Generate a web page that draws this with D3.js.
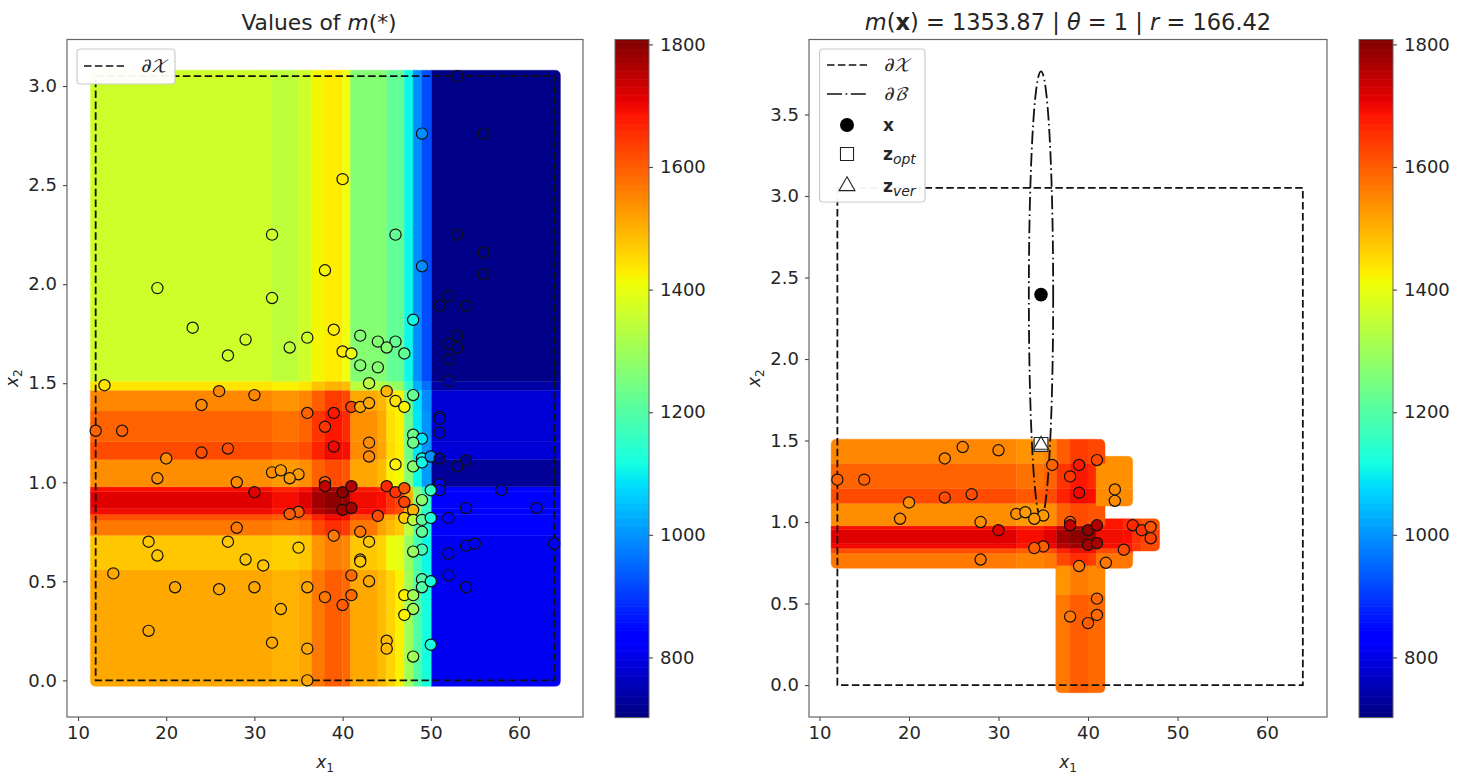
<!DOCTYPE html>
<html lang="en">
<head>
<meta charset="utf-8">
<title>Values of m</title>
<script src="https://cdn.jsdelivr.net/npm/d3@7"></script>
<style>
  html, body { margin: 0; padding: 0; background: #fff; }
  svg { display: block; }
  text { font-family: "DejaVu Sans", sans-serif; fill: #262626; }
  .tick text { font-size: 18px; }
  .tick line { stroke: #444; stroke-width: 1.1; }
  .math { font-family: "DejaVu Math TeX Gyre", "DejaVu Sans", serif; }
</style>
</head>
<body>
<svg id="chart" width="1464" height="774"></svg>
<script>
// band edges of the surface m(*)
var colEdges = [11.4, 32, 35, 36.5, 38, 40, 40.9, 44, 45, 46, 47, 48, 49, 50.1, 64.7];
var rowEdges = [-0.03, 0.557, 0.733, 0.809, 0.839, 0.868, 0.952, 0.977, 1.115, 1.205, 1.36, 1.465, 1.51, 3.08];

// m value per band, rows bottom to top, columns left to right
var surface = [
  [1510, 1500, 1510, 1568, 1600, 1585, 1510, 1490, 1460, 1425, 1305, 1200, 1122, 812],
  [1476, 1465, 1476, 1535, 1565, 1550, 1476, 1460, 1405, 1395, 1295, 1180, 1110, 812],
  [1568, 1555, 1568, 1625, 1655, 1640, 1570, 1515, 1490, 1470, 1340, 1215, 1130, 825],
  [1616, 1600, 1616, 1670, 1700, 1690, 1620, 1518, 1510, 1480, 1400, 1240, 1140, 830],
  [1700, 1680, 1700, 1755, 1775, 1770, 1690, 1680, 1640, 1620, 1500, 1270, 1150, 835],
  [1715, 1695, 1715, 1775, 1795, 1785, 1700, 1690, 1650, 1630, 1505, 1275, 1155, 835],
  [1690, 1670, 1690, 1745, 1770, 1760, 1680, 1660, 1630, 1610, 1490, 1260, 1140, 830],
  [1543, 1528, 1543, 1595, 1620, 1610, 1515, 1490, 1425, 1415, 1270, 1110, 1010, 725],
  [1620, 1605, 1620, 1670, 1700, 1690, 1545, 1515, 1450, 1430, 1235, 1090, 1000, 785],
  [1592, 1575, 1592, 1645, 1680, 1660, 1540, 1510, 1445, 1425, 1235, 1090, 1000, 785],
  [1550, 1535, 1550, 1600, 1640, 1625, 1510, 1495, 1440, 1420, 1225, 1085, 990, 785],
  [1440, 1425, 1440, 1480, 1500, 1490, 1340, 1330, 1300, 1290, 1150, 1030, 960, 740],
  [1366, 1343, 1366, 1419, 1432, 1410, 1266, 1266, 1222, 1222, 1110, 995, 925, 710]
];

// training points
var pointX1 = [40, 32, 38, 19, 32, 39, 23, 36, 29, 34, 27, 40, 41,
  53, 49, 56, 46, 53, 56, 56, 49, 52, 51, 54, 48, 42, 44, 46, 45, 47, 53, 52, 53, 52, 42, 44, 43, 52,
  13, 26, 30, 24, 36, 39, 41, 42, 38, 12, 15, 39, 27, 24, 20, 19, 32, 33, 35, 34, 28, 38, 38, 30, 40, 41, 40, 41, 35, 34, 28, 39,
  27, 18, 19, 35, 29, 31, 14, 41, 21, 26, 30, 36, 38, 41, 40, 33, 18, 32, 36, 36,
  45, 46, 47, 48, 43, 51, 51, 51, 48, 49, 48, 43, 43, 46, 48, 49, 49, 50, 51, 54, 53, 51, 51, 50, 58, 45, 46, 47, 47, 49, 48, 54, 62,
  47, 48, 49, 50, 52, 44, 42, 49, 43, 49, 48, 42, 42, 54, 55, 64, 52, 43, 52, 54, 49, 49, 50, 47, 48, 48, 47, 45, 45, 50, 48];
var pointX2 = [2.53, 2.25, 2.07, 1.98, 1.93, 1.77, 1.78, 1.73, 1.72, 1.68, 1.64, 1.66, 1.65,
  3.05, 2.76, 2.76, 2.25, 2.25, 2.16, 2.05, 2.09, 1.94, 1.89, 1.89, 1.82, 1.74, 1.71, 1.71, 1.68, 1.65, 1.74, 1.70, 1.68, 1.62, 1.59, 1.58, 1.50, 1.51,
  1.49, 1.46, 1.44, 1.39, 1.35, 1.35, 1.38, 1.38, 1.28, 1.26, 1.26, 1.18, 1.17, 1.15, 1.12, 1.02, 1.05, 1.06, 1.04, 1.02, 1.00, 1.00, 0.98, 0.95, 0.95, 0.98, 0.86, 0.87, 0.85, 0.84, 0.77, 0.73,
  0.70, 0.70, 0.63, 0.67, 0.61, 0.58, 0.54, 0.53, 0.47, 0.46, 0.47, 0.47, 0.42, 0.43, 0.38, 0.36, 0.25, 0.19, 0.16, 0,
  1.46, 1.41, 1.38, 1.44, 1.40, 1.33, 1.32, 1.25, 1.24, 1.22, 1.20, 1.20, 1.13, 1.09, 1.08, 1.12, 1.10, 1.13, 1.12, 1.11, 1.08, 0.99, 0.96, 0.96, 0.96, 0.98, 0.95, 0.97, 0.90, 0.91, 0.86, 0.87, 0.87,
  0.82, 0.81, 0.81, 0.82, 0.82, 0.83, 0.75, 0.75, 0.70, 0.66, 0.65, 0.61, 0.60, 0.68, 0.69, 0.69, 0.64, 0.50, 0.53, 0.47, 0.51, 0.47, 0.50, 0.43, 0.43, 0.36, 0.33, 0.20, 0.16, 0.18, 0.12];

var boundsX1 = [12, 64];
var boundsX2 = [0, 3.05];
var queryPoint = [34.75, 2.395];
var zOpt = [34.75, 1.476];
var zVer = [34.75, 1.476];
var ballRadii = [1.36, 1.37];
var mAtX = 1353.87;
var rAtX = 166.42;
var colorDomain = [702, 1808];
var colorTicks = [800, 1000, 1200, 1400, 1600, 1800];

var svg = d3.select('#chart');

// soft edge for the surface, the markers in the reference bleed into each other
svg.append('defs').append('filter').attr('id', 'soft')
  .attr('x', '-5%').attr('y', '-5%').attr('width', '110%').attr('height', '110%')
  .append('feGaussianBlur').attr('stdDeviation', 0.5);

// matplotlib jet
var jetR = d3.scaleLinear().domain([0, 0.35, 0.66, 0.89, 1]).range([0, 0, 1, 1, 0.5]);
var jetG = d3.scaleLinear().domain([0, 0.125, 0.375, 0.64, 0.91, 1]).range([0, 0, 1, 1, 0, 0]);
var jetB = d3.scaleLinear().domain([0, 0.11, 0.34, 0.65, 1]).range([0.5, 1, 1, 0, 0]);
var toUnit = d3.scaleLinear().domain(colorDomain).range([0, 1]).clamp(true);
function jet(v) {
  var t = toUnit(v);
  return d3.rgb(jetR(t) * 255, jetG(t) * 255, jetB(t) * 255).formatHex();
}

function bandIndex(edges, v) {
  return Math.max(0, Math.min(edges.length - 2, d3.bisectRight(edges, v) - 1));
}
// markers cover half of their neighbours, so the visible band edge sits off the grid point
function valueAt(x1, x2) {
  return surface[bandIndex(rowEdges, x2 - 0.015)][bandIndex(colEdges, x1 - 0.5)];
}

// rect path with some corners rounded: [tl, tr, br, bl]
function cellPath(x0, y0, x1, y1, round, r) {
  var c = round.map(function(b) { return b ? r : 0; });
  return 'M' + (x0 + c[0]) + ',' + y0 +
    'H' + (x1 - c[1]) + 'Q' + x1 + ',' + y0 + ' ' + x1 + ',' + (y0 + c[1]) +
    'V' + (y1 - c[2]) + 'Q' + x1 + ',' + y1 + ' ' + (x1 - c[2]) + ',' + y1 +
    'H' + (x0 + c[3]) + 'Q' + x0 + ',' + y1 + ' ' + x0 + ',' + (y1 - c[3]) +
    'V' + (y0 + c[0]) + 'Q' + x0 + ',' + y0 + ' ' + (x0 + c[0]) + ',' + y0 + 'Z';
}

function drawField(parent, x, y, minValue, growX, growY, dropY) {
  var g = parent.append('g').attr('filter', 'url(#soft)');
  var keep = function(i, j) {
    return i >= 0 && j >= 0 && i < surface.length && j < colEdges.length - 1 && surface[i][j] >= minValue;
  };
  surface.forEach(function(row, i) {
    row.forEach(function(v, j) {
      if (!keep(i, j)) return;
      var up = keep(i + 1, j), down = keep(i - 1, j), left = keep(i, j - 1), right = keep(i, j + 1);
      var x0 = x(colEdges[j] - (left || !growX ? 0 : 0.1));
      var x1 = x(colEdges[j + 1] + (right ? 0 : growX));
      var y0 = y(rowEdges[i + 1] + (up ? 0 : growY));
      var y1 = y(rowEdges[i] - (down ? 0 : dropY));
      g.append('path')
        .attr('d', cellPath(x0, y0, x1, y1, [!left && !up, !right && !up, !right && !down, !left && !down], 5.5))
        .attr('fill', jet(v))
        .attr('stroke', jet(v))
        .attr('stroke-width', 0.4);
    });
  });
}

function drawPoints(g, x, y, minValue) {
  pointX1.forEach(function(v, i) {
    var m = valueAt(v, pointX2[i]);
    if (m < minValue) return;
    g.append('circle')
      .attr('cx', x(v))
      .attr('cy', y(pointX2[i]))
      .attr('r', 5.6)
      .attr('fill', jet(m))
      .attr('stroke', '#111')
      .attr('stroke-width', 1.2);
  });
}

function drawPanel(p) {
  var g = svg.append('g').attr('transform', 'translate(' + p.left + ',' + p.top + ')');
  var x = d3.scaleLinear().domain(p.xDomain).range([0, p.w]);
  var y = d3.scaleLinear().domain(p.yDomain).range([p.h, 0]);

  drawField(g, x, y, p.minValue, p.growX, p.growY, p.dropY);

  // boundary of the domain
  g.append('rect')
    .attr('x', x(boundsX1[0])).attr('y', y(boundsX2[1]))
    .attr('width', x(boundsX1[1]) - x(boundsX1[0]))
    .attr('height', y(boundsX2[0]) - y(boundsX2[1]))
    .attr('fill', 'none').attr('stroke', '#111')
    .attr('stroke-width', 1.8).attr('stroke-dasharray', dashBox);

  g.append('g').attr('transform', 'translate(0,' + p.h + ')')
    .call(d3.axisBottom(x).tickValues([10, 20, 30, 40, 50, 60]).tickSize(4).tickPadding(5).tickFormat(d3.format('d')))
    .call(function(a) { a.select('.domain').remove(); });
  g.append('g')
    .call(d3.axisLeft(y).tickValues(p.yTicks).tickSize(4).tickPadding(6).tickFormat(d3.format('.1f')))
    .call(function(a) { a.select('.domain').remove(); });

  g.append('text').attr('x', p.w / 2).attr('y', p.h + 51).attr('text-anchor', 'middle')
    .style('font-size', '17px')
    .html('<tspan font-style="italic">x</tspan><tspan dy="4" font-size="12">1</tspan>');
  g.append('text')
    .attr('transform', 'translate(' + (-49) + ',' + (p.h / 2) + ') rotate(-90)')
    .attr('text-anchor', 'middle').style('font-size', '17px')
    .html('<tspan font-style="italic">x</tspan><tspan dy="4" font-size="12">2</tspan>');

  return {g: g, x: x, y: y};
}

function drawFrame(p) {
  svg.append('rect')
    .attr('x', p.left).attr('y', p.top).attr('width', p.w).attr('height', p.h)
    .attr('fill', 'none').attr('stroke', '#666').attr('stroke-width', 1.2);
}

function drawColorbar(left) {
  var top = 39.5, h = 678, w = 34;
  var cy = d3.scaleLinear().domain(colorDomain).range([h, 0]);
  var g = svg.append('g').attr('transform', 'translate(' + left + ',' + top + ')');
  var levels = d3.range(256);
  var step = (colorDomain[1] - colorDomain[0]) / 256;
  g.selectAll('rect.level').data(levels).enter().append('rect')
    .attr('class', 'level')
    .attr('x', 0).attr('width', w)
    .attr('y', function(d) { return cy(colorDomain[0] + (d + 1) * step); })
    .attr('height', h / 256 + 0.6)
    .attr('fill', function(d) { return jet(colorDomain[0] + (d + 0.5) * step); });
  g.append('rect').attr('width', w).attr('height', h)
    .attr('fill', 'none').attr('stroke', '#666').attr('stroke-width', 1);
  g.append('g').attr('transform', 'translate(' + w + ',0)')
    .call(d3.axisRight(cy).tickValues(colorTicks).tickSize(4).tickPadding(7).tickFormat(d3.format('d')))
    .call(function(a) { a.select('.domain').remove(); });
}

function legendBox(x, y, w, h) {
  svg.append('rect').attr('x', x).attr('y', y).attr('width', w).attr('height', h)
    .attr('rx', 3.5).attr('fill', '#fff').attr('fill-opacity', 0.95)
    .attr('stroke', '#ccc').attr('stroke-width', 1.2);
}
function legendLine(x0, y, dash) {
  svg.append('line').attr('x1', x0).attr('x2', x0 + 40).attr('y1', y).attr('y2', y)
    .attr('stroke', '#111').attr('stroke-width', 1.7).attr('stroke-dasharray', dash);
}
function legendText(x, y, html) {
  svg.append('text').attr('x', x).attr('y', y + 6).style('font-size', '17px').html(html);
}

var dashBox = '7.5,3.4';
var dashBall = '13.5,3.5,1.7,3.5';

// left panel
var leftPanel = {left: 67, top: 39.5, w: 516, h: 677.5, xDomain: [8.75, 67.26], yDomain: [-0.185, 3.235],
  yTicks: [0, 0.5, 1, 1.5, 2, 2.5, 3], minValue: -Infinity, growX: 0, growY: 0, dropY: 0};
var a = drawPanel(leftPanel);
drawPoints(a.g, a.x, a.y, -Infinity);
drawFrame(leftPanel);
drawColorbar(615);

svg.append('text').attr('x', 319).attr('y', 30).attr('text-anchor', 'middle').style('font-size', '21.8px')
  .html('Values of <tspan font-style="italic">m</tspan>(*)');

legendBox(77, 49, 98, 35);
legendLine(84, 66, dashBox);
legendText(140, 66, '<tspan class="math" font-style="italic">∂𝒳</tspan>');

// right panel, only the part of the surface at or above m(x) + r
var rightPanel = {left: 809, top: 39.5, w: 518, h: 677.5, xDomain: [8.83, 66.7], yDomain: [-0.196, 3.96],
  yTicks: [0, 0.5, 1, 1.5, 2, 2.5, 3, 3.5], minValue: mAtX + rAtX, growX: 1, growY: 0.043, dropY: 0.017};
var b = drawPanel(rightPanel);

b.g.append('ellipse')
  .attr('cx', b.x(queryPoint[0])).attr('cy', b.y(queryPoint[1]))
  .attr('rx', b.x(queryPoint[0] + ballRadii[0]) - b.x(queryPoint[0]))
  .attr('ry', b.y(queryPoint[1] - ballRadii[1]) - b.y(queryPoint[1]))
  .attr('fill', 'none').attr('stroke', '#111').attr('stroke-width', 1.8).attr('stroke-dasharray', dashBall);

drawPoints(b.g, b.x, b.y, rightPanel.minValue);

b.g.append('circle').attr('cx', b.x(queryPoint[0])).attr('cy', b.y(queryPoint[1])).attr('r', 6.8).attr('fill', '#000');
b.g.append('path').attr('d', d3.symbol(d3.symbolSquare, 190)())
  .attr('transform', 'translate(' + b.x(zOpt[0]) + ',' + b.y(zOpt[1]) + ')')
  .attr('fill', '#fff').attr('stroke', '#222').attr('stroke-width', 1.1);
b.g.append('path').attr('d', d3.symbol(d3.symbolTriangle, 95)())
  .attr('transform', 'translate(' + b.x(zVer[0]) + ',' + (b.y(zVer[1]) + 0.5) + ')')
  .attr('fill', '#fff').attr('stroke', '#222').attr('stroke-width', 1.1);

drawFrame(rightPanel);
drawColorbar(1359);

svg.append('text').attr('x', 1068).attr('y', 30).attr('text-anchor', 'middle').style('font-size', '22.5px')
  .html('<tspan font-style="italic">m</tspan>(<tspan font-weight="bold">x</tspan>) = 1353.87 | <tspan font-style="italic">θ</tspan> = 1 | <tspan font-style="italic">r</tspan> = 166.42');

legendBox(819.5, 49, 105.5, 153);
legendLine(827, 65, dashBox);
legendLine(827, 94, '15,3.5,1.8,3.5');
svg.append('circle').attr('cx', 847).attr('cy', 125).attr('r', 7).attr('fill', '#000');
svg.append('path').attr('d', d3.symbol(d3.symbolSquare, 170)()).attr('transform', 'translate(847,154)')
  .attr('fill', '#fff').attr('stroke', '#222').attr('stroke-width', 1.1);
svg.append('path').attr('d', d3.symbol(d3.symbolTriangle, 110)()).attr('transform', 'translate(847,186)')
  .attr('fill', '#fff').attr('stroke', '#222').attr('stroke-width', 1.1);
legendText(883, 65, '<tspan class="math" font-style="italic">∂𝒳</tspan>');
legendText(883, 94, '<tspan class="math" font-style="italic">∂ℬ</tspan>');
legendText(883, 125, '<tspan font-weight="bold">x</tspan>');
legendText(883, 154, '<tspan font-weight="bold">z</tspan><tspan dy="4" font-size="14" font-style="italic">opt</tspan>');
legendText(883, 186, '<tspan font-weight="bold">z</tspan><tspan dy="4" font-size="14" font-style="italic">ver</tspan>');
</script>
</body>
</html>
